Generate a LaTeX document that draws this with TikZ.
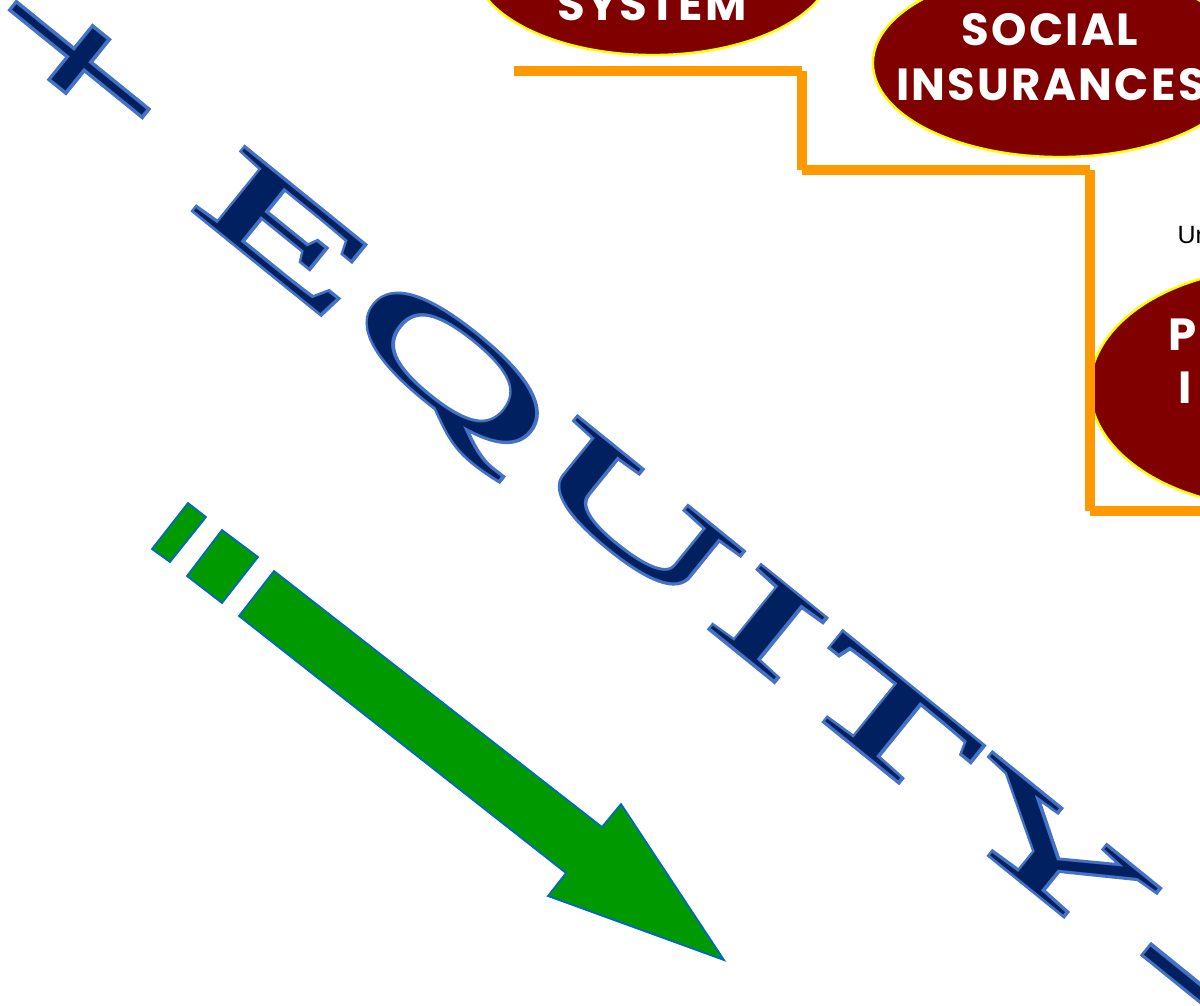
\documentclass[tikz,border=0pt]{standalone}
\usepackage{fontspec}
\usetikzlibrary{shapes.geometric}
\setmainfont{Liberation Serif}
\newfontfamily\wordart[FakeStretch=2.55]{Liberation Serif}
\newfontfamily\wordartedge[FakeStretch=2.55,FakeBold=5]{Liberation Serif}
\newfontfamily\ovalface[LetterSpace=5]{Poppins}
\newfontfamily\notefont{Liberation Sans}

\definecolor{eqnavy}{RGB}{0,32,96}
\definecolor{eqedge}{RGB}{68,114,196}
\definecolor{ovalred}{RGB}{128,0,0}
\definecolor{ovaledge}{RGB}{255,255,0}
\definecolor{stepline}{RGB}{255,153,0}
\definecolor{arrowgreen}{RGB}{0,153,0}
\definecolor{arrowedge}{RGB}{0,102,204}

\begin{document}
\begin{tikzpicture}[x=0.01cm, y=-0.01cm,
  oval/.style={ellipse, fill=ovalred, draw=ovaledge, line width=0.7pt, inner sep=0pt},
  ovaltext/.style={text=white, inner sep=0pt, anchor=base,
    font=\ovalface\bfseries\fontsize{12.8}{15}\selectfont},
  glyph/.style={inner sep=0pt, anchor=base, text=eqnavy,
    font=\wordart\fontsize{34.7}{40}\selectfont},
  glyphedge/.style={inner sep=0pt, anchor=base, text=eqedge,
    font=\wordartedge\fontsize{34.7}{40}\selectfont},
  signglyph/.style={inner sep=0pt, anchor=center, text=eqnavy,
    font=\wordart\fontsize{40}{46}\selectfont},
  signedge/.style={inner sep=0pt, anchor=center, text=eqedge,
    font=\wordartedge\fontsize{40}{46}\selectfont},
  stepseg/.style={draw=stepline, line width=3.1pt, line cap=butt},
  arrowpart/.style={fill=arrowgreen, draw=arrowedge, line width=0.5pt, line join=miter}
]
\useasboundingbox (0,0) rectangle (1200,1005);
\clip (0,0) rectangle (1200,1005);

% ellipses
\node[oval, minimum width=3.6cm, minimum height=1.84cm] (sys) at (653,-37) {};
\node[ovaltext] (systxt) at (652,20) {SYSTEM};

\node[oval, minimum width=3.74cm, minimum height=1.88cm] (soc) at (1060,63) {};
\node[ovaltext] (soctxt1) at (1050,45) {SOCIAL};
\node[ovaltext] (soctxt2) at (1051,100) {INSURANCES};

\node[oval, minimum width=3.8cm, minimum height=2.4cm] (priv) at (1280,388) {};
\node[ovaltext, anchor=base west] (privtxt1) at (1168,350) {PR};
\node[ovaltext, anchor=base west] (privtxt2) at (1178,403) {I};

\node[inner sep=0pt, anchor=base west, font=\notefont\fontsize{7.1}{8}\selectfont] (un) at (1177,243) {Un};

% orange stepped line
\coordinate (st0) at (514,71);
\coordinate (st1) at (802,71);
\coordinate (st2) at (802,170);
\coordinate (st3) at (1090,170);
\coordinate (st4) at (1090,511);
\coordinate (st5) at (1215,511);
\draw[stepseg] (st0) -- (st1);
\draw[stepseg] (st1) -- (st2);
\draw[stepseg] (st2) -- (st3);
\draw[stepseg] (st3) -- (st4);
\draw[stepseg] (st4) -- (st5);

% green arrow with two leading dashes
\draw[arrowpart] (188,503) -- (206,517) -- (170,562) -- (152,549) -- cycle;
\draw[arrowpart] (222,530) -- (258,557) -- (222,603) -- (187,576) -- cycle;
\draw[arrowpart] (274,571) -- (602,827) -- (621,804) -- (724,960) -- (548,896)
  -- (566,873) -- (239,616) -- cycle;

% slanted word art: + EQUITY -
\begin{scope}[shift={(188,208)}, rotate=-39, transform shape]
  \node[signedge] (plus-edge) at (-178,-40) {+};
  \node[signglyph] (plus) at (-178,-40) {+};
  \foreach \ch/\s/\nm in {E/93/e, Q/306/q, U/541/u, I/712/i, T/866/t, Y/1078/y}{
    \node[glyphedge] (\nm-edge) at (\s,-2) {\ch};
    \node[glyph] (\nm) at (\s,-2) {\ch};
  }
  \node[signedge] (minus-edge) at (1260,-13) {-};
  \node[signglyph] (minus) at (1260,-13) {-};
\end{scope}
\end{tikzpicture}
\end{document}
